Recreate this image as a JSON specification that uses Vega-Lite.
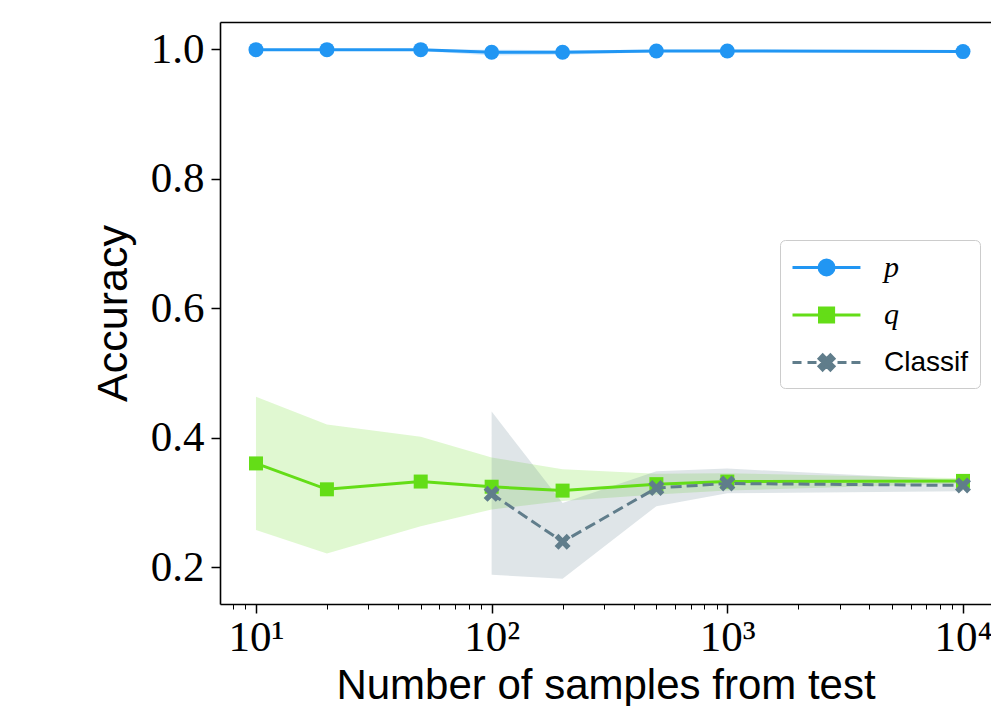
{
  "$schema": "https://vega.github.io/schema/vega-lite/v6.json",
  "width": 771,
  "height": 582,
  "autosize": {"type": "none"},
  "padding": {"left": 220, "top": 22, "right": 0, "bottom": 102},
  "background": "white",
  "config": {
    "view": {"stroke": null},
    "axis": {"grid": false, "domainColor": "black", "domainWidth": 1.6, "tickColor": "black", "labelColor": "black", "titleColor": "black", "titleFontWeight": "normal"}
  },
  "data": {
    "values": [
      {"n": 10, "s": "p", "acc": 0.999, "lo": 0.997, "hi": 1.0},
      {"n": 20, "s": "p", "acc": 0.999, "lo": 0.997, "hi": 1.0},
      {"n": 50, "s": "p", "acc": 0.999, "lo": 0.997, "hi": 1.0},
      {"n": 100, "s": "p", "acc": 0.995, "lo": 0.990, "hi": 0.999},
      {"n": 200, "s": "p", "acc": 0.995, "lo": 0.991, "hi": 0.998},
      {"n": 500, "s": "p", "acc": 0.997, "lo": 0.995, "hi": 0.999},
      {"n": 1000, "s": "p", "acc": 0.997, "lo": 0.995, "hi": 0.999},
      {"n": 10000, "s": "p", "acc": 0.996, "lo": 0.995, "hi": 0.997},
      {"n": 10, "s": "q", "acc": 0.360, "lo": 0.257, "hi": 0.463},
      {"n": 20, "s": "q", "acc": 0.320, "lo": 0.221, "hi": 0.420},
      {"n": 50, "s": "q", "acc": 0.332, "lo": 0.263, "hi": 0.401},
      {"n": 100, "s": "q", "acc": 0.324, "lo": 0.289, "hi": 0.369},
      {"n": 200, "s": "q", "acc": 0.318, "lo": 0.302, "hi": 0.351},
      {"n": 500, "s": "q", "acc": 0.328, "lo": 0.312, "hi": 0.344},
      {"n": 1000, "s": "q", "acc": 0.332, "lo": 0.318, "hi": 0.345},
      {"n": 10000, "s": "q", "acc": 0.333, "lo": 0.329, "hi": 0.337},
      {"n": 100, "s": "Classif", "acc": 0.313, "lo": 0.188, "hi": 0.440},
      {"n": 200, "s": "Classif", "acc": 0.239, "lo": 0.182, "hi": 0.299},
      {"n": 500, "s": "Classif", "acc": 0.322, "lo": 0.294, "hi": 0.348},
      {"n": 1000, "s": "Classif", "acc": 0.329, "lo": 0.314, "hi": 0.352},
      {"n": 10000, "s": "Classif", "acc": 0.326, "lo": 0.317, "hi": 0.334}
    ]
  },
  "encoding": {
    "y": {
      "field": "acc", "type": "quantitative",
      "scale": {"domain": [0.1429, 1.0417], "nice": false, "zero": false},
      "axis": {"title": "Accuracy", "values": [0.2, 0.4, 0.6, 0.8, 1.0], "format": ".1f", "tickSize": 9, "tickWidth": 1.5, "labelPadding": 7, "labelFont": "Liberation Serif", "labelFontSize": 43, "titleFont": "Liberation Sans", "titleFontSize": 43, "titlePadding": 15}
    },
    "color": {"field": "s", "type": "nominal", "scale": {"domain": ["p", "q", "Classif"], "range": ["#2196f3", "#64dd17", "#607d8b"]}}
  },
  "layer": [
    {
      "mark": {"type": "area", "opacity": 0.2},
      "encoding": {
        "x": {
          "field": "n", "type": "quantitative",
          "scale": {"type": "log", "domain": [7.036, 13148], "nice": false},
          "axis": {
            "title": "Number of samples from test",
            "values": [8, 9, 10, 20, 30, 40, 50, 60, 70, 80, 90, 100, 200, 300, 400, 500, 600, 700, 800, 900, 1000, 2000, 3000, 4000, 5000, 6000, 7000, 8000, 9000, 10000],
            "labelExpr": "datum.value == 10 ? '10¹' : datum.value == 100 ? '10²' : datum.value == 1000 ? '10³' : datum.value == 10000 ? '10⁴' : ''",
            "tickSize": {"condition": {"test": "indexof([10,100,1000,10000], datum.value) >= 0", "value": 9}, "value": 5},
            "tickWidth": {"condition": {"test": "indexof([10,100,1000,10000], datum.value) >= 0", "value": 1.5}, "value": 1},
            "labelOverlap": false, "labelFlush": false, "labelBound": false,
            "labelPadding": 3, "labelFont": "Liberation Serif", "labelFontSize": 43,
            "titleFont": "Liberation Sans", "titleFontSize": 42, "titlePadding": 6
          }
        },
        "y": {"field": "lo", "type": "quantitative"},
        "y2": {"field": "hi"},
        "color": {
          "field": "s", "type": "nominal",
          "legend": {
            "orient": "none", "legendX": 560, "legendY": 218, "title": null,
            "padding": 11, "strokeColor": "#cccccc", "fillColor": "rgba(255,255,255,0.8)", "cornerRadius": 5,
            "symbolSize": 900, "symbolStrokeWidth": 3, "symbolOpacity": 1, "labelOffset": 60, "rowPadding": 15.5,
            "labelFontSize": 27, "labelColor": "black", "labelLimit": 0,
            "encode": {
              "symbols": {
                "update": {
                  "shape": {"signal": "datum.value === 'p' ? 'M-1,0H3.53M0.77,0A0.5,0.5 0 1,0 1.77,0A0.5,0.5 0 1,0 0.77,0Z' : datum.value === 'q' ? 'M-1,0H3.53M0.8,-0.47H1.74V0.47H0.8Z' : 'M-1,0H-0.4M0,0H0.6M0.9,0H1.6M2,0H2.6M2.93,0H3.53M1.012,0.5L1.27,0.24L1.528,0.5L1.77,0.258L1.51,0L1.77,-0.258L1.528,-0.5L1.27,-0.24L1.012,-0.5L0.77,-0.258L1.03,0L0.77,0.258Z'"},
                  "fill": {"scale": "color", "field": "value"},
                  "stroke": {"scale": "color", "field": "value"},
                  "strokeWidth": {"value": 3},
                  "opacity": {"value": 1},
                  "fillOpacity": {"value": 1},
                  "strokeOpacity": {"value": 1}
                }
              },
              "labels": {
                "update": {
                  "font": {"signal": "datum.value === 'Classif' ? 'Liberation Sans' : 'Liberation Serif'"},
                  "fontStyle": {"signal": "datum.value === 'Classif' ? 'normal' : 'italic'"},
                  "fontSize": {"signal": "datum.value === 'Classif' ? 28 : 30"}
                }
              }
            }
          }
        }
      }
    },
    {
      "transform": [{"filter": "datum.s === 'p'"}],
      "mark": {"type": "line", "strokeWidth": 3},
      "encoding": {"x": {"field": "n", "type": "quantitative", "axis": null}}
    },
    {
      "transform": [{"filter": "datum.s === 'p'"}],
      "mark": {"type": "point", "filled": true, "opacity": 1, "shape": "circle", "size": 225},
      "encoding": {"x": {"field": "n", "type": "quantitative", "axis": null}}
    },
    {
      "transform": [{"filter": "datum.s === 'q'"}],
      "mark": {"type": "line", "strokeWidth": 3},
      "encoding": {"x": {"field": "n", "type": "quantitative", "axis": null}}
    },
    {
      "transform": [{"filter": "datum.s === 'q'"}],
      "mark": {"type": "point", "filled": true, "opacity": 1, "shape": "square", "size": 196},
      "encoding": {"x": {"field": "n", "type": "quantitative", "axis": null}}
    },
    {
      "transform": [{"filter": "datum.s === 'Classif'"}],
      "mark": {"type": "line", "strokeWidth": 3, "strokeDash": [11, 5]},
      "encoding": {"x": {"field": "n", "type": "quantitative", "axis": null}}
    },
    {
      "transform": [{"filter": "datum.s === 'Classif'"}],
      "mark": {"type": "point", "filled": true, "opacity": 1, "size": 256, "shape": "M-0.516,1L0,0.48L0.516,1L1,0.516L0.48,0L1,-0.516L0.516,-1L0,-0.48L-0.516,-1L-1,-0.516L-0.48,0L-1,0.516Z"},
      "encoding": {"x": {"field": "n", "type": "quantitative", "axis": {"orient": "top", "labels": false, "ticks": false, "domain": true, "title": null}}}
    }
  ],
  "resolve": {"axis": {"x": "independent"}}
}
